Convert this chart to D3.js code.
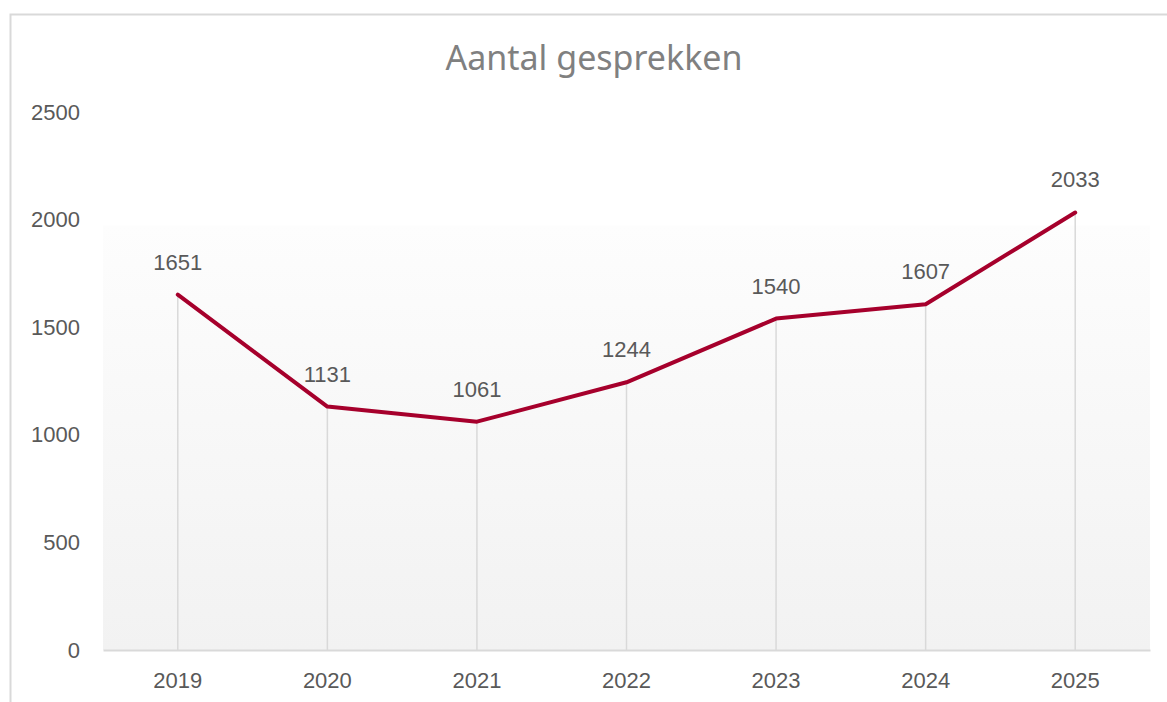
<!DOCTYPE html>
<html>
<head>
<meta charset="utf-8">
<script src="https://cdn.jsdelivr.net/npm/d3@7"></script>
<style>
  body { margin: 0; background: #fff; }
  .tick text, .lbl { font-family: "Liberation Sans", Arial, sans-serif; fill: #595959; }
  .title { font-family: "Noto Sans", "Open Sans", sans-serif; fill: #808080; }
</style>
</head>
<body>
<div id="chart"></div>
<script>
// data
const years = ["2019", "2020", "2021", "2022", "2023", "2024", "2025"];
const values = [1651, 1131, 1061, 1244, 1540, 1607, 2033];
const yTicks = [0, 500, 1000, 1500, 2000, 2500];

const W = 1167, H = 702;
const margin = {top: 112, right: 17, bottom: 52, left: 103};
const width = W - margin.left - margin.right;
const height = H - margin.top - margin.bottom;

const svg = d3.select("#chart")
  .append("svg")
    .attr("width", W)
    .attr("height", H);

// chart border
svg.append("rect")
    .attr("x", 10.5)
    .attr("y", 14.5)
    .attr("width", 1200)
    .attr("height", 720)
    .attr("fill", "#fff")
    .attr("stroke", "#d9d9d9")
    .attr("stroke-width", 2);

// gradient for plot area
const defs = svg.append("defs");
const grad = defs.append("linearGradient")
    .attr("id", "bg")
    .attr("x1", 0).attr("y1", 0).attr("x2", 0).attr("y2", 1);
grad.append("stop").attr("offset", "0%").attr("stop-color", "#fdfdfd");
grad.append("stop").attr("offset", "100%").attr("stop-color", "#f2f2f2");

const g = svg.append("g")
    .attr("transform", "translate(" + margin.left + "," + margin.top + ")");

// scales
const x = d3.scaleBand()
  .domain(years)
  .range([0, width]);

const y = d3.scaleLinear()
  .domain([0, 2500])
  .range([height, 0]);

// plot area background
const bgTop = y(2000) + 6;
g.append("rect")
    .attr("x", 0)
    .attr("y", bgTop)
    .attr("width", width)
    .attr("height", height - bgTop)
    .attr("fill", "url(#bg)");

// y axis (labels only)
g.append("g")
  .call(d3.axisLeft(y).tickValues(yTicks).tickFormat(d3.format("d")).tickSize(0).tickPadding(23))
  .call(function(s) { s.select(".domain").remove(); })
  .selectAll("text")
    .style("font-size", "22px");

// drop lines
g.append("g")
  .selectAll("line")
  .data(values)
  .enter()
  .append("line")
    .attr("x1", function(d, i) { return x(years[i]) + x.bandwidth() / 2; })
    .attr("x2", function(d, i) { return x(years[i]) + x.bandwidth() / 2; })
    .attr("y1", function(d) { return y(d); })
    .attr("y2", height)
    .attr("stroke", "#d9d9d9")
    .attr("stroke-width", 1.5);

// x axis
const xAxis = g.append("g")
    .attr("transform", "translate(0," + height + ")")
  .call(d3.axisBottom(x).tickSize(0).tickPadding(22).tickSizeOuter(0));
xAxis.select(".domain")
    .attr("stroke", "#d9d9d9")
    .attr("stroke-width", 2);
xAxis.selectAll("text").style("font-size", "22px");

// line
const line = d3.line()
  .x(function(d, i) { return x(years[i]) + x.bandwidth() / 2; })
  .y(function(d) { return y(d); });

g.append("path")
    .datum(values)
    .attr("fill", "none")
    .attr("stroke", "#a6002c")
    .attr("stroke-width", 4)
    .attr("stroke-linejoin", "round")
    .attr("stroke-linecap", "round")
    .attr("d", line);

// data labels
g.append("g")
  .selectAll("text")
  .data(values)
  .enter()
  .append("text")
    .attr("class", "lbl")
    .attr("x", function(d, i) { return x(years[i]) + x.bandwidth() / 2; })
    .attr("y", function(d) { return y(d) - 25; })
    .attr("text-anchor", "middle")
    .style("font-size", "22px")
    .text(function(d) { return d; });

// title
svg.append("text")
    .attr("class", "title")
    .attr("x", 594)
    .attr("y", 70)
    .attr("text-anchor", "middle")
    .style("font-size", "34px")
    .text("Aantal gesprekken");
</script>
</body>
</html>
